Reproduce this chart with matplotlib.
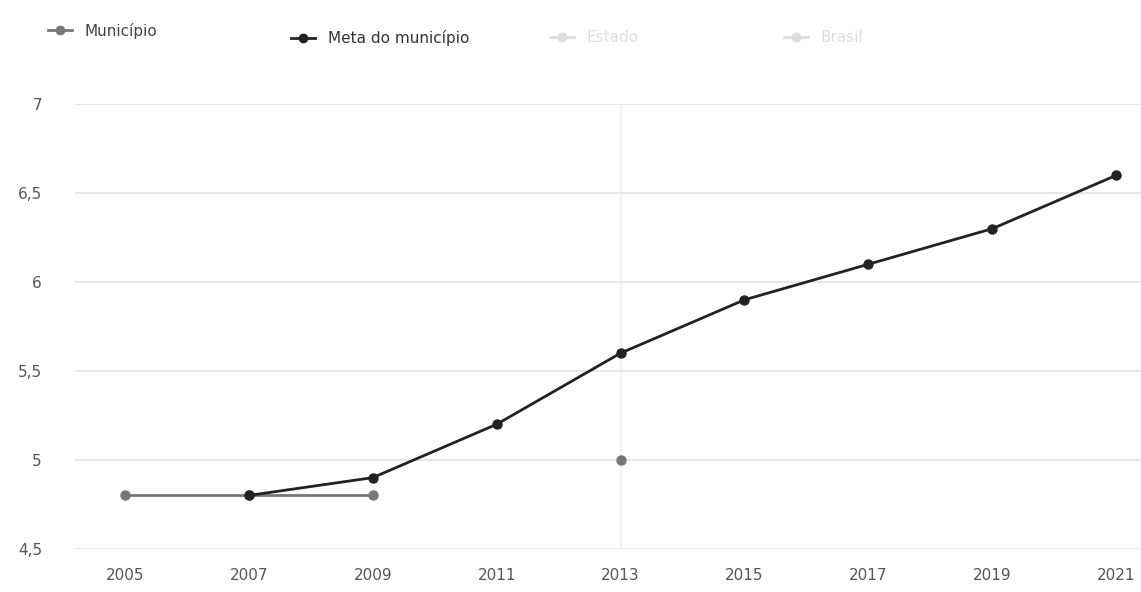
import numpy as np
import matplotlib.pyplot as plt
from matplotlib.lines import Line2D
from matplotlib.ticker import FuncFormatter

# data
anos = [2005, 2007, 2009, 2011, 2013, 2015, 2017, 2019, 2021]
municipio = [4.8, 4.8, 4.8, np.nan, 5.0, np.nan, np.nan, np.nan, np.nan]
meta_anos = [2007, 2009, 2011, 2013, 2015, 2017, 2019, 2021]
meta = [4.8, 4.9, 5.2, 5.6, 5.9, 6.1, 6.3, 6.6]
y_ticks = [4.5, 5, 5.5, 6, 6.5, 7]

fig = plt.figure(figsize=(11.41, 5.92), dpi=100)
ax = fig.add_axes([0.066, 0.073, 0.934, 0.751])

ax.axvline(2013, color='#eeeeee', lw=1.2, zorder=0)
ax.plot(anos, municipio, color='#777777', lw=2, marker='o', ms=6.5, zorder=3)
ax.plot(meta_anos, meta, color='#222222', lw=2, marker='o', ms=6.5, zorder=4)

ax.set_xlim(2004.2, 2021.4)
ax.set_ylim(4.5, 7)
ax.set_xticks(anos)
ax.set_yticks(y_ticks)
ax.yaxis.set_major_formatter(FuncFormatter(lambda v, p: ('%g' % v).replace('.', ',')))
ax.grid(axis='y', color='#e3e3e3', lw=1.2)
for s in ax.spines.values():
    s.set_visible(False)
ax.tick_params(length=0, labelsize=11, colors='#555555')
ax.tick_params(axis='x', pad=14)
ax.tick_params(axis='y', pad=24)

# legend entries across the top, each placed on its own
labels = ['Município', 'Meta do município', 'Estado', 'Brasil']
cores = ['#777777', '#222222', '#dddddd', '#dddddd']
cores_txt = ['#444444', '#333333', '#dddddd', '#dddddd']
pos_x = [0.03, 0.243, 0.47, 0.675]
pos_y = [0.985, 0.972, 0.972, 0.972]
for lab, c, ct, x, y in zip(labels, cores, cores_txt, pos_x, pos_y):
    h = Line2D([], [], color=c, lw=2, marker='o', ms=6)
    leg = fig.legend([h], [lab], loc='upper left', bbox_to_anchor=(x, y), frameon=False,
                     fontsize=11, handlelength=1.6, handletextpad=0.8)
    leg.get_texts()[0].set_color(ct)

fig.savefig('out.png', dpi=100)
